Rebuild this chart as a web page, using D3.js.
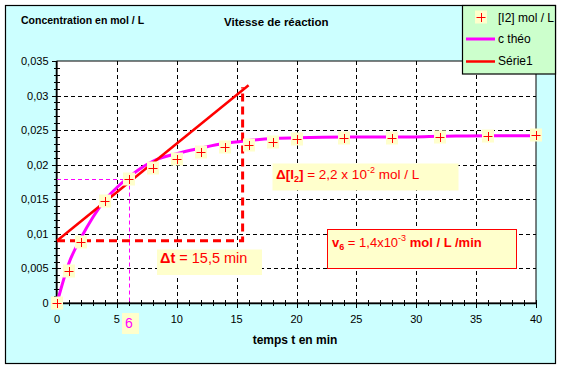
<!DOCTYPE html>
<html><head><meta charset="utf-8">
<script src="https://cdn.jsdelivr.net/npm/d3@7"></script>
<style>body{margin:0;background:#fff}svg{display:block;font-family:"Liberation Sans",Arial,sans-serif}</style>
</head><body><svg id="c" width="561" height="369"></svg>
<script>
// ---- data ----
const times = [0,1,2,4,6,8,10,12,14,16,18,20,24,28,32,36,40];
const iodine = [0,0.0047,0.0088,0.0148,0.0179,0.0195,0.0208,0.0219,0.0225,0.0228,0.0233,0.0237,0.0238,0.0238,0.0240,0.0242,0.0243];
const theoTimes = [0,1,2,3,4,5,6,7,8,10,12,14,16,18,20,24,28,32,36,40];
const theoValues = [0,0.0058,0.0094,0.0124,0.0149,0.0167,0.0182,0.0195,0.0205,0.0216,0.0224,0.0231,0.0235,0.0238,0.0239,0.0240,0.0240,0.0241,0.0242,0.0242];
const tangentT = [0,16];
const tangentC = [0.009,0.0315];
const deltaT = [0,15.5];        // horizontal dashed segment (t)
const deltaC = [0.009,0.0312];  // vertical dashed segment (c)
const guideT = 6, guideC = 0.018;
const xTicks = [0,5,10,15,20,25,30,35,40];
const yTicks = [0,0.005,0.01,0.015,0.02,0.025,0.03,0.035];
const yTickLabels = ["0","0,005","0,01","0,015","0,02","0,025","0,03","0,035"];
const legendLabels = ["[I2] mol / L","c théo","Série1"];

const svg = d3.select("#c");
const x = d3.scaleLinear().domain([0,40]).range([57,536]);
const y = d3.scaleLinear().domain([0,0.035]).range([303,61]);

// background
svg.append("rect").attr("x",5.5).attr("y",5.5).attr("width",550).attr("height",358)
  .attr("fill","#ccffff").attr("stroke","#000").attr("stroke-width",1.2);

// titles
svg.append("text").attr("x",21).attr("y",24).attr("font-size",10.5).attr("font-weight","bold").text("Concentration en mol / L");
svg.append("text").attr("x",224).attr("y",26).attr("font-size",11.5).attr("font-weight","bold").text("Vitesse de réaction");

// plot area
svg.append("rect").attr("x",x(0)).attr("y",y(0.035)).attr("width",x(40)-x(0)).attr("height",y(0)-y(0.035))
  .attr("fill","#fff").attr("stroke","#000").attr("stroke-width",1);

// grid
const g = svg.append("g").attr("stroke","#000").attr("stroke-width",1).attr("stroke-dasharray","4,3");
xTicks.filter(t=>t>0&&t<40).forEach(t=>{
  g.append("line").attr("x1",Math.round(x(t))+0.5).attr("x2",Math.round(x(t))+0.5).attr("y1",y(0.035)).attr("y2",y(0));
});
yTicks.filter(t=>t>0&&t<0.035).forEach(t=>{
  g.append("line").attr("x1",x(0)).attr("x2",x(40)).attr("y1",Math.round(y(t))+0.5).attr("y2",Math.round(y(t))+0.5);
});

// axes
const ax = svg.append("g").attr("stroke","#000").attr("stroke-width",1);
ax.append("line").attr("x1",x(0)).attr("x2",x(40)).attr("y1",y(0)+0.5).attr("y2",y(0)+0.5).attr("stroke-width",1.5);
ax.append("line").attr("x1",x(0)-0.5).attr("x2",x(0)-0.5).attr("y1",y(0.035)).attr("y2",y(0)).attr("stroke-width",1.5);
d3.range(0,41,1).forEach(t=>{
  const major = t%5===0;
  const px = Math.round(x(t))+0.5;
  ax.append("line").attr("x1",px).attr("x2",px).attr("y1",y(0)-3).attr("y2",y(0)+(major?5:3));
});
d3.range(0,36,1).forEach(i=>{
  const v=i*0.001, major=i%5===0;
  const py = Math.round(y(v))+0.5;
  ax.append("line").attr("x1",x(0)-(major?5:3)).attr("x2",x(0)+(major?0:3)).attr("y1",py).attr("y2",py);
});
svg.append("g").selectAll("text").data(yTicks).join("text")
  .attr("x",48.5).attr("y",d=>y(d)+4).attr("text-anchor","end").attr("font-size",11)
  .text((d,i)=>yTickLabels[i]);
svg.append("g").selectAll("text").data(xTicks).join("text")
  .attr("x",d=>x(d)).attr("y",323).attr("text-anchor","middle").attr("font-size",11)
  .text(d=>d);
svg.append("text").attr("x",295).attr("y",344).attr("text-anchor","middle").attr("font-size",12).attr("font-weight","bold").text("temps t en min");

// magenta thin guides
svg.append("path").attr("d",`M${x(0)},${Math.round(y(guideC))+0.5}H${x(guideT)}`)
  .attr("stroke","#ff00ff").attr("stroke-dasharray","4,3").attr("fill","none");
svg.append("path").attr("d",`M${Math.round(x(guideT))+0.5},${y(guideC)}V${y(0)}`)
  .attr("stroke","#ff00ff").attr("stroke-dasharray","4,3").attr("fill","none");

// c théo curve
const theo = theoTimes.map((t,i)=>[t,theoValues[i]]);
svg.append("path").datum(theo).attr("fill","none").attr("stroke","#ff00ff").attr("stroke-width",3)
  .attr("d",d3.line().x(d=>x(d[0])).y(d=>y(d[1])).curve(d3.curveMonotoneX));

// tangent (Série1)
svg.append("path").datum(tangentT.map((t,i)=>[t,tangentC[i]])).attr("fill","none").attr("stroke","#ff0000").attr("stroke-width",2.5)
  .attr("d",d3.line().x(d=>x(d[0])).y(d=>y(d[1])));

// red dashed construction
svg.append("path").attr("d",`M${x(deltaT[0])},${y(deltaC[0])}H${x(deltaT[1])}V${y(deltaC[1])}`)
  .attr("fill","none").attr("stroke","#ff0000").attr("stroke-width",3).attr("stroke-dasharray","8,5");

// markers
function marker(sel,cx,cy){
  sel.append("rect").attr("x",cx-6).attr("y",cy-6.5).attr("width",12).attr("height",13).attr("fill","#ffffcc");
  sel.append("path").attr("d",`M${cx-4.5},${cy+0.5}H${cx+4.5}M${cx+0.5},${cy-4}V${cy+5}`).attr("stroke","#ff0000").attr("stroke-width",1);
}
const mg = svg.append("g");
times.forEach((t,i)=>marker(mg,Math.round(x(t)),Math.round(y(iodine[i]))));

// annotation boxes
function box(x0,y0,w,h,stroke){
  svg.append("rect").attr("x",x0).attr("y",y0).attr("width",w).attr("height",h).attr("fill","#ffffcc")
    .attr("stroke",stroke||"none").attr("stroke-width",1);
}
box(272.5,163.5,186,27);
const t1 = svg.append("text").attr("x",276).attr("y",179).attr("font-size",13.5).attr("fill","#ff0000");
t1.append("tspan").attr("font-weight","bold").text("Δ[I");
t1.append("tspan").attr("font-weight","bold").attr("font-size",9).attr("dy",3).text("2");
t1.append("tspan").attr("font-weight","bold").attr("dy",-3).text("]");
t1.append("tspan").text(" = 2,2 x 10");
t1.append("tspan").attr("font-size",9).attr("dy",-6).text("-2");
t1.append("tspan").attr("dy",6).text(" mol / L");

box(157,249.5,105,25.5);
const t2 = svg.append("text").attr("x",160).attr("y",263).attr("font-size",14.5).attr("fill","#ff0000");
t2.append("tspan").attr("font-weight","bold").text("Δt");
t2.append("tspan").text(" = 15,5 min");

box(327.5,229.5,189,39,"#ff0000");
const t3 = svg.append("text").attr("x",332).attr("y",247).attr("font-size",13).attr("fill","#ff0000");
t3.append("tspan").attr("font-weight","bold").text("v");
t3.append("tspan").attr("font-weight","bold").attr("font-size",9).attr("dy",3).text("6");
t3.append("tspan").attr("dy",-3).text(" = 1,4x10");
t3.append("tspan").attr("font-size",9).attr("dy",-6).text("-3");
t3.append("tspan").attr("dy",6).attr("font-weight","bold").text(" mol / L /min");

box(122,313,17,21);
svg.append("text").attr("x",125).attr("y",328).attr("font-size",14).attr("fill","#ff00ff").text(guideT);

// legend
svg.append("rect").attr("x",462.5).attr("y",5.5).attr("width",93).attr("height",68.5)
  .attr("fill","#ccffcc").attr("stroke","#000").attr("stroke-width",1.2);
marker(svg,481,17);
svg.append("line").attr("x1",466).attr("x2",495).attr("y1",39).attr("y2",39).attr("stroke","#ff00ff").attr("stroke-width",3);
svg.append("line").attr("x1",466).attr("x2",495).attr("y1",61.5).attr("y2",61.5).attr("stroke","#ff0000").attr("stroke-width",2.5);
[22,43,65].forEach((yy,i)=>svg.append("text").attr("x",498).attr("y",yy).attr("font-size",12).text(legendLabels[i]));
</script></body></html>
